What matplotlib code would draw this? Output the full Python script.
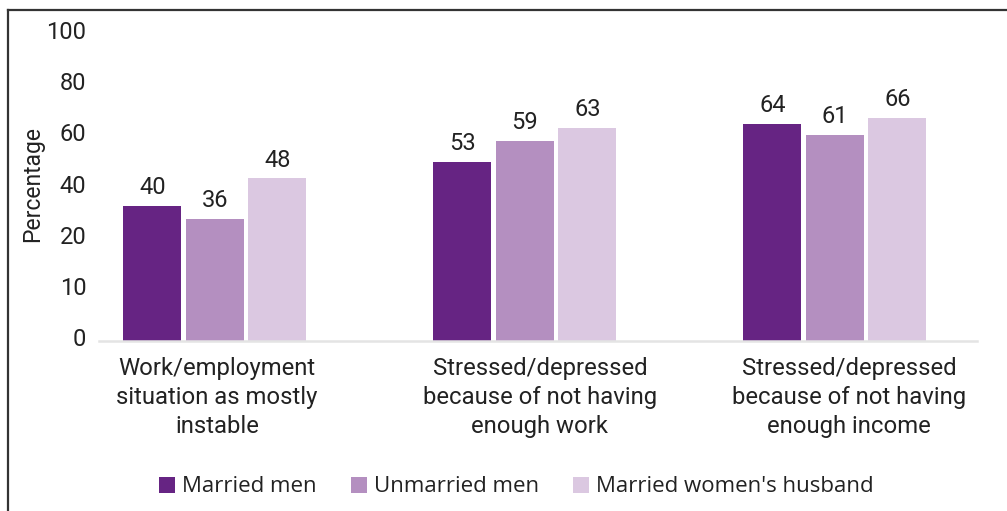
import matplotlib
matplotlib.use('Agg')
import matplotlib.pyplot as plt
import matplotlib.transforms as mtransforms
from matplotlib.lines import Line2D
from matplotlib.patches import Patch
import numpy as np

# Data
categories = ['Work/employment\nsituation as mostly\ninstable',
              'Stressed/depressed\nbecause of not having\nenough work',
              'Stressed/depressed\nbecause of not having\nenough income']
series_names = ['Married men', 'Unmarried men', "Married women's husband"]
married_men = [40, 53, 64]
unmarried_men = [36, 59, 61]
wives_husband = [48, 63, 66]
ytick_labels = ['0', '10', '20', '40', '60', '80', '100']

colors = ['#662483', '#b48fc0', '#dbc8e1']
text_color = '#222222'
label_shift_px = [2, 15, 14]  # category labels sit a bit right of their bars

plt.rcParams['font.family'] = ['Roboto', 'DejaVu Sans']

fig = plt.figure(figsize=(10.07, 5.11), dpi=100)
ax = fig.add_axes([0.0983, 0.3333, 0.8717, 0.6467])

x = np.arange(len(categories))
width = 0.187
step = 0.2016
values = [married_men, unmarried_men, wives_husband]
for i, (vals, col) in enumerate(zip(values, colors)):
    bars = ax.bar(x + (i - 1) * step, vals, width=width, color=col, zorder=2)
    ax.bar_label(bars, labels=[str(v) for v in vals], padding=5,
                 fontsize=17, color=text_color)

ax.set_xlim(-0.374, 2.458)
ax.set_ylim(0, 97.8)

# the original axis labels are spaced evenly, not by value
tick_step = 15.15
ax.set_yticks(np.arange(len(ytick_labels)) * tick_step)
ax.set_yticklabels(ytick_labels, fontsize=17, color=text_color)
ax.set_xticks(x)
ax.set_xticklabels(categories, fontsize=17.2, color=text_color, linespacing=1.32)
ax.tick_params(axis='both', length=0)
ax.tick_params(axis='y', pad=9)
ax.tick_params(axis='x', pad=12)

# nudge y labels up a little, as in the original
shift = mtransforms.ScaledTranslation(0, 3.5 / 100, fig.dpi_scale_trans)
for lbl in ax.get_yticklabels():
    lbl.set_transform(lbl.get_transform() + shift)
for lbl, dx in zip(ax.get_xticklabels(), label_shift_px):
    lbl.set_transform(lbl.get_transform() +
                      mtransforms.ScaledTranslation(dx / 100, 0, fig.dpi_scale_trans))

for side in ['top', 'right', 'left']:
    ax.spines[side].set_visible(False)
ax.spines['bottom'].set_color('#e4e4e4')
ax.spines['bottom'].set_linewidth(1.8)

fig.text(33 / 1007, 1 - 184 / 511, 'Percentage', rotation=90, fontsize=16.5,
         color=text_color, ha='center', va='center')

# legend
handles = [Patch(facecolor=c, edgecolor='none') for c in colors]
fig.legend(handles, series_names, loc='center', bbox_to_anchor=(516.5 / 1007, 0.047),
           ncol=3, frameon=False, prop={'family': 'Open Sans', 'size': 16},
           handlelength=0.72, handleheight=0.72, handletextpad=0.3, columnspacing=1.55,
           labelcolor=text_color)

# outer frame (left and top edges)
fig.add_artist(Line2D([7.5 / 1007, 7.5 / 1007], [0, 1 - 10 / 511], transform=fig.transFigure,
                      color='#333333', linewidth=1.6))
fig.add_artist(Line2D([7.5 / 1007, 1], [1 - 10 / 511, 1 - 10 / 511], transform=fig.transFigure,
                      color='#333333', linewidth=1.6))

fig.savefig('out.png', dpi=100)
plt.close(fig)
